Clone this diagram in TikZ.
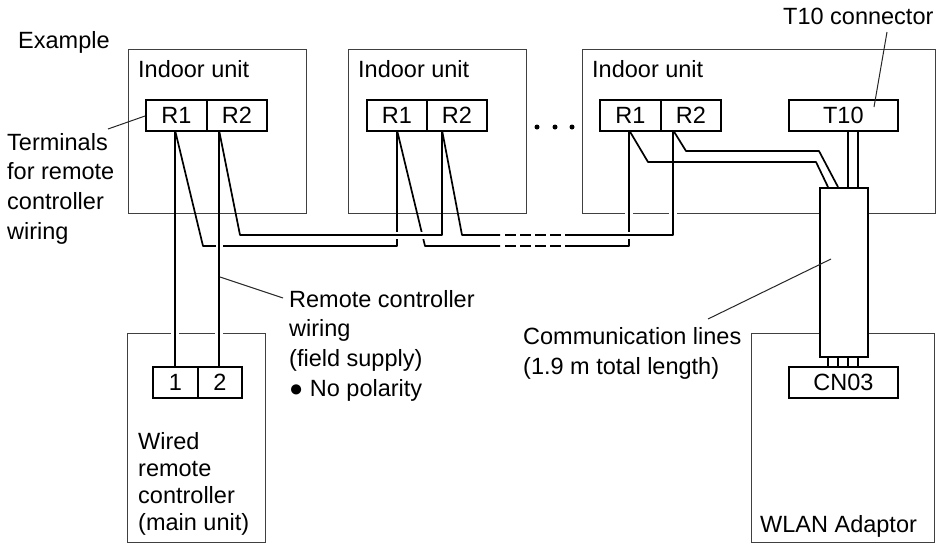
\documentclass[tikz,border=0pt]{standalone}
\usepackage{fontspec}
\setmainfont{Liberation Sans}
\tikzset{
	unitbox/.style={draw=black!75,line width=1.2pt,anchor=north west,inner sep=0pt},
	termbox/.style={draw,line width=1.7pt,anchor=north west,inner sep=0pt,fill=white,font=\fontsize{23.5}{28}\selectfont},
	wire/.style={line width=1.7pt,line join=round},
	leader/.style={line width=1pt,black!85},
	lbl/.style={anchor=base west,inner sep=0pt,align=left,font=\fontsize{23.5}{29.6}\selectfont},
	lbltight/.style={anchor=base west,inner sep=0pt,align=left,font=\fontsize{23.5}{26.7}\selectfont}
}
\begin{document}
\begin{tikzpicture}[x=1pt,y=-1pt]
	\useasboundingbox (0,0) rectangle (944,544);
	%units
	\node[unitbox,minimum width=178pt,minimum height=164pt] (unitA) at (128,49) {};
	\node[unitbox,minimum width=178pt,minimum height=164pt] (unitB) at (348,49) {};
	\node[unitbox,minimum width=353pt,minimum height=164pt] (unitC) at (582,49) {};
	\node[unitbox,minimum width=138pt,minimum height=209pt] (remote) at (127,333) {};
	\node[unitbox,minimum width=183pt,minimum height=209pt] (adaptor) at (751,333) {};
	%border gaps
	\foreach \x/\y in {175/333,219/333,629/213,673/213}
		\fill[white] (\x-4,\y-2) rectangle (\x+4,\y+2);
	%lower wire
	\draw[wire] (175,130) -- (203,246) -- (397,246) -- (397,130);
	\draw[wire] (397,130) -- (425,246) -- (500,246);
	\draw[wire] (565,246) -- (629,246) -- (629,130);
	\draw[wire,dash pattern=on 11pt off 4pt] (505,246) -- (561,246);
	%wire gaps
	\foreach \x/\y in {219/246,397/235,422/235,629/235}
		\fill[white] (\x-3.5,\y-3.5) rectangle (\x+3.5,\y+3.5);
	%upper wire
	\draw[wire] (219,130) -- (240,235) -- (442,235) -- (442,130);
	\draw[wire] (442,130) -- (462,235) -- (500,235);
	\draw[wire] (565,235) -- (673,235) -- (673,130);
	\draw[wire,dash pattern=on 11pt off 4pt] (505,235) -- (561,235);
	%main remote
	\draw[wire] (175,130) -- (175,366);
	\draw[wire] (219,130) -- (219,366);
	%communication lines
	\node[draw,line width=1.7pt,fill=white,anchor=north west,minimum width=48pt,minimum height=169pt,inner sep=0pt] (comm) at (819,187) {};
	\draw[wire] (629,130) -- (648,162) -- (816,162) -- (828,187);
	\draw[wire] (673,130) -- (686,151) -- (819,151) -- (838,187);
	\foreach \x in {848,858}
		\draw[wire] (\x,130) -- (\x,187);
	\foreach \x in {828,838,848,858}
		\draw[wire] (\x,356) -- (\x,366);
	%terminals
	\node[termbox,minimum width=61pt,minimum height=31pt] (aOne) at (145,99) {R1};
	\node[termbox,minimum width=60pt,minimum height=31pt] (aTwo) at (206,99) {R2};
	\node[termbox,minimum width=60pt,minimum height=31pt] (bOne) at (366,99) {R1};
	\node[termbox,minimum width=60pt,minimum height=31pt] (bTwo) at (426,99) {R2};
	\node[termbox,minimum width=61pt,minimum height=31pt] (cOne) at (599,99) {R1};
	\node[termbox,minimum width=60pt,minimum height=31pt] (cTwo) at (660,99) {R2};
	\node[termbox,minimum width=109pt,minimum height=31pt] (tten) at (788,99) {T10};
	\node[termbox,minimum width=45pt,minimum height=31pt] (rOne) at (152,366) {1};
	\node[termbox,minimum width=44pt,minimum height=31pt] (rTwo) at (197,366) {2};
	\node[termbox,minimum width=109pt,minimum height=31pt] (cn) at (788,366) {CN03};
	%dots
	\foreach \x in {537,555,572}
		\fill (\x,127) circle (2.5);
	%labels
	\node[lbl] (lExample) at (18,48) {Example};
	\node[lbl] (lA) at (138,77) {Indoor unit};
	\node[lbl] (lB) at (358,77) {Indoor unit};
	\node[lbl] (lC) at (592,77) {Indoor unit};
	\node[lbl] (lTconn) at (783,24) {T10 connector};
	\node[lbl] (lTerm) at (7,239) {Terminals\\for remote\\controller\\wiring};
	\node[lbl] (lWire) at (289,396) {Remote controller\\wiring\\(field supply)\\● No polarity};
	\node[lbl] (lComm) at (523,374) {Communication lines\\(1.9 m total length)};
	\node[lbltight] (lRemote) at (138,530) {Wired\\remote\\controller\\(main unit)};
	\node[lbl] (lAdaptor) at (760,532) {WLAN Adaptor};
	%leaders
	\coordinate (tipTen) at (887,32);
	\coordinate (tipTerm) at (108,129);
	\coordinate (tipWire) at (283,298);
	\coordinate (tipComm) at (708,319);
	\draw[leader] (tipTen) -- (874,107);
	\draw[leader] (tipTerm) -- (aOne.west |- 0,116);
	\draw[leader] (220,277) -- (tipWire);
	\draw[leader] (tipComm) -- (831,259);
\end{tikzpicture}
\end{document}
